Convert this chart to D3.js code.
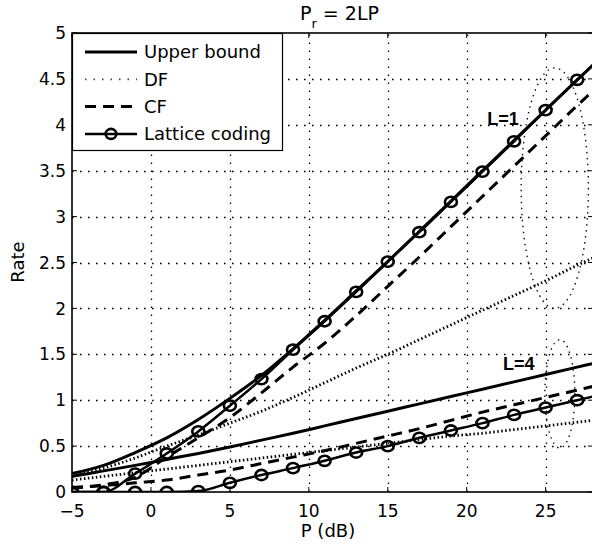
<!DOCTYPE html>
<html>
<head>
<meta charset="utf-8">
<script src="https://cdn.jsdelivr.net/npm/d3@7"></script>
<style>
  body { margin: 0; background: #fff; }
  svg { display: block; }
  text { font-family: "DejaVu Sans", sans-serif; fill: #000; }
</style>
</head>
<body>
<svg id="chart" width="592" height="546"></svg>
<script>
// P (dB) sample points, last one is the right edge of the plot
const snr = [-5, -3, -1, 1, 3, 5, 7, 9, 11, 13, 15, 17, 19, 21, 23, 25, 27, 28]

// L = 1
const upper1 = [0.20, 0.29, 0.43, 0.59, 0.79, 1.02, 1.27, 1.56, 1.87, 2.19, 2.51, 2.84, 3.17, 3.50, 3.83, 4.16, 4.49, 4.65]
const df1 = [0.17, 0.26, 0.37, 0.50, 0.62, 0.75, 0.88, 1.03, 1.19, 1.35, 1.50, 1.66, 1.82, 1.98, 2.14, 2.30, 2.47, 2.55]
const cf1 = [0.04, 0.08, 0.16, 0.38, 0.59, 0.81, 1.08, 1.36, 1.62, 1.92, 2.24, 2.56, 2.89, 3.22, 3.55, 3.88, 4.21, 4.37]
const lattice1 = [0, 0, 0.20, 0.42, 0.66, 0.94, 1.23, 1.55, 1.86, 2.18, 2.51, 2.83, 3.16, 3.49, 3.82, 4.16, 4.49, 4.65]

// L = 4
const upper4 = [0.17, 0.23, 0.29, 0.355, 0.42, 0.49, 0.565, 0.64, 0.72, 0.80, 0.88, 0.96, 1.04, 1.12, 1.20, 1.28, 1.36, 1.40]
const df4 = [0.13, 0.17, 0.21, 0.25, 0.29, 0.33, 0.37, 0.41, 0.45, 0.49, 0.53, 0.57, 0.61, 0.64, 0.68, 0.72, 0.76, 0.78]
const cf4 = [0.05, 0.07, 0.10, 0.13, 0.185, 0.24, 0.31, 0.38, 0.45, 0.53, 0.61, 0.69, 0.78, 0.87, 0.95, 1.03, 1.11, 1.15]
const lattice4 = [0, 0, 0, 0, 0.01, 0.10, 0.185, 0.26, 0.34, 0.43, 0.50, 0.59, 0.67, 0.75, 0.84, 0.92, 1.00, 1.04]

const xTicks = [-5, 0, 5, 10, 15, 20, 25]
const xTickLabels = ['\u22125', '0', '5', '10', '15', '20', '25']
const yTicks = [0, 0.5, 1, 1.5, 2, 2.5, 3, 3.5, 4, 4.5, 5]
const yTickLabels = ['0', '0.5', '1', '1.5', '2', '2.5', '3', '3.5', '4', '4.5', '5']

const legendNames = ['Upper bound', 'DF', 'CF', 'Lattice coding']

// group annotations (ellipse centre / radii in data units, label anchor)
const groupNames = ['L=1', 'L=4']
const groupEllipse = [[25.58, 3.31, 2.13, 1.31], [25.9, 1.07, 0.95, 0.59]]
const groupLabel = [[21.3, 4.0], [22.3, 1.33]]

const svg = d3.select('#chart')
const mLeft = 72, mRight = 593, mTop = 33, mBottom = 492
const x = d3.scaleLinear().domain([-5, 28]).range([mLeft, mRight])
const y = d3.scaleLinear().domain([0, 5]).range([mBottom, mTop])
const px = v => Math.round(v) + 0.5

svg.append('rect').attr('width', 592).attr('height', 546).attr('fill', '#fff')

svg.append('clipPath').attr('id', 'plot-clip')
  .append('rect').attr('x', mLeft).attr('y', mTop).attr('width', mRight - mLeft).attr('height', mBottom - mTop)

// grid
const grid = svg.append('g')
  .attr('stroke', '#000').attr('stroke-width', 1.3).attr('stroke-dasharray', '1.6,6.4')
grid.selectAll('line.vg').data(xTicks.filter(d => d > -5))
  .enter().append('line').classed('vg', true)
  .attr('x1', d => px(x(d))).attr('x2', d => px(x(d))).attr('y1', mBottom).attr('y2', mTop)
grid.selectAll('line.hg').data(yTicks.filter(d => d > 0 && d < 5))
  .enter().append('line').classed('hg', true)
  .attr('y1', d => px(y(d))).attr('y2', d => px(y(d))).attr('x1', mLeft).attr('x2', mRight)

const plot = svg.append('g').attr('clip-path', 'url(#plot-clip)')

const line = d3.line()
  .x((d, i) => x(snr[i]))
  .y(d => y(d))
  .curve(d3.curveMonotoneX)

const styles = {
  upper: { dash: null, width: 3, color: '#000' },
  df: { dash: '1.5,2.5', width: 2.8, color: '#000' },
  cf: { dash: '11,7', width: 3, color: '#000' },
  lattice: { dash: null, width: 2.5, color: '#000' }
}

const series = [
  ['df', df1], ['df', df4],
  ['cf', cf1], ['cf', cf4],
  ['upper', upper1], ['upper', upper4],
  ['lattice', lattice1], ['lattice', lattice4]
]

series.forEach(([kind, values]) => {
  const s = styles[kind]
  plot.append('path')
    .attr('d', line(values))
    .attr('fill', 'none')
    .attr('stroke', s.color)
    .attr('stroke-width', s.width)
    .attr('stroke-dasharray', s.dash)
})

// lattice markers (every 2 dB, not on the edge point)
;[lattice1, lattice4].forEach(values => {
  plot.selectAll(null)
    .data(values.slice(0, snr.length - 1))
    .enter().append('ellipse')
    .attr('cx', (d, i) => x(snr[i]))
    .attr('cy', d => y(d))
    .attr('rx', 6)
    .attr('ry', 5.1)
    .attr('fill', 'none')
    .attr('stroke', '#000')
    .attr('stroke-width', 2.6)
})

// group ellipses and labels
groupNames.forEach((name, i) => {
  const [cx, cy, rx, ry] = groupEllipse[i]
  plot.append('ellipse')
    .attr('cx', x(cx)).attr('cy', y(cy))
    .attr('rx', x(cx + rx) - x(cx)).attr('ry', y(cy) - y(cy + ry))
    .attr('fill', 'none')
    .attr('stroke', '#111')
    .attr('stroke-width', 1.4)
    .attr('stroke-dasharray', '1.5,4.5')
  svg.append('text')
    .attr('x', x(groupLabel[i][0])).attr('y', y(groupLabel[i][1]))
    .style('font-family', '"Liberation Sans", Arial, sans-serif')
    .style('font-weight', 'bold')
    .style('font-size', '18px')
    .text(name)
})

// axes box
const axes = svg.append('g').attr('stroke', '#000').attr('fill', 'none')
axes.append('rect')
  .attr('x', mLeft).attr('y', mTop).attr('width', mRight - mLeft).attr('height', mBottom - mTop)
  .attr('stroke-width', 1.6)

const tickLen = 5
axes.selectAll('line.xt').data(xTicks).enter().append('line').classed('xt', true)
  .attr('x1', d => x(d)).attr('x2', d => x(d)).attr('y1', mBottom).attr('y2', mBottom - tickLen)
axes.selectAll('line.xtt').data(xTicks).enter().append('line').classed('xtt', true)
  .attr('x1', d => x(d)).attr('x2', d => x(d)).attr('y1', mTop).attr('y2', mTop + tickLen)
axes.selectAll('line.yt').data(yTicks).enter().append('line').classed('yt', true)
  .attr('y1', d => y(d)).attr('y2', d => y(d)).attr('x1', mLeft).attr('x2', mLeft + tickLen)
axes.selectAll('line.ytr').data(yTicks).enter().append('line').classed('ytr', true)
  .attr('y1', d => y(d)).attr('y2', d => y(d)).attr('x1', mRight).attr('x2', mRight - tickLen)

svg.selectAll('text.xl').data(xTicks).enter().append('text').classed('xl', true)
  .attr('x', d => x(d)).attr('y', mBottom + 25)
  .attr('text-anchor', 'middle')
  .style('font-size', '17px')
  .text((d, i) => xTickLabels[i])

svg.selectAll('text.yl').data(yTicks).enter().append('text').classed('yl', true)
  .attr('x', mLeft - 6).attr('y', d => y(d)).attr('dy', '0.36em')
  .attr('text-anchor', 'end')
  .style('font-size', '17px')
  .text((d, i) => yTickLabels[i])

svg.append('text')
  .attr('x', 328).attr('y', 537)
  .attr('text-anchor', 'middle')
  .style('font-size', '18px')
  .text('P (dB)')

svg.append('text')
  .attr('transform', 'translate(24 262) rotate(-90)')
  .attr('text-anchor', 'middle')
  .style('font-size', '18px')
  .text('Rate')

const title = svg.append('text').attr('x', 300).attr('y', 20).style('font-size', '19px')
title.append('tspan').text('P')
title.append('tspan').attr('dy', 8).style('font-size', '13px').text('r')
title.append('tspan').attr('dy', -8).text(' = 2LP')

// legend
const legend = svg.append('g')
legend.append('rect')
  .attr('x', mLeft + 0.5).attr('y', mTop + 0.5).attr('width', 210).attr('height', 117)
  .attr('fill', '#fff').attr('stroke', '#000').attr('stroke-width', 1.2)

const legendKinds = ['upper', 'df', 'cf', 'lattice']
legendKinds.forEach((kind, i) => {
  const ly = mTop + 19 + i * 27.3
  const s = styles[kind]
  legend.append('line')
    .attr('x1', 85).attr('x2', 137).attr('y1', ly).attr('y2', ly)
    .attr('stroke', kind === 'df' ? '#444' : '#000')
    .attr('stroke-width', kind === 'df' ? 1.8 : s.width)
    .attr('stroke-dasharray', kind === 'df' ? '1.5,7' : s.dash)
  if (kind === 'lattice') {
    legend.append('ellipse').attr('cx', 111).attr('cy', ly).attr('rx', 5.3).attr('ry', 5)
      .attr('fill', 'none').attr('stroke', '#000').attr('stroke-width', 2.6)
  }
  legend.append('text')
    .attr('x', 144).attr('y', ly).attr('dy', '0.36em')
    .style('font-size', '18px')
    .text(legendNames[i])
})
</script>
</body>
</html>
